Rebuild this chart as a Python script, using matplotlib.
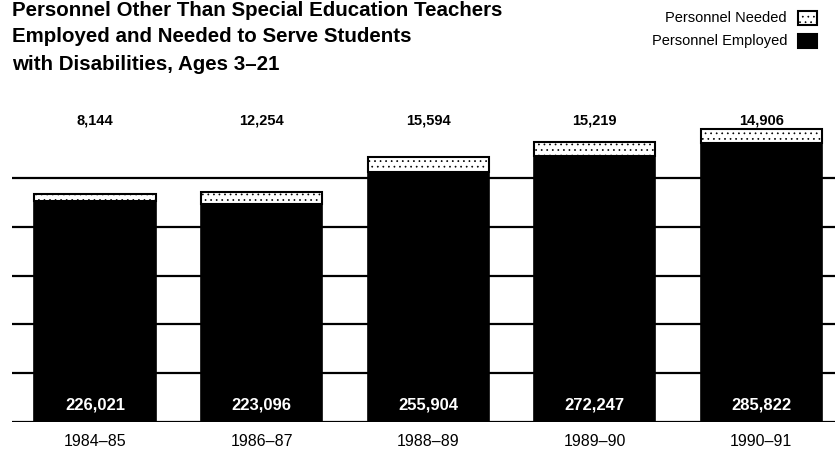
import matplotlib.pyplot as plt
from matplotlib.patches import Rectangle

# school years and personnel counts
years = ['1984\u201385', '1986\u201387', '1988\u201389', '1989\u201390', '1990\u201391']
employed = [226021, 223096, 255904, 272247, 285822]
needed = [8144, 12254, 15594, 15219, 14906]

W, H = 835, 457
FONT = ['Liberation Sans', 'DejaVu Sans']

fig = plt.figure(figsize=(W / 100, H / 100), dpi=100)
fig.patch.set_facecolor('white')

# axes placed in pixel terms: left edge at 12px, bottom line at 422px
ax = fig.add_axes([12 / W, (H - 422) / H, 1 - 12 / W, 322 / H])
ax.set_xlim(-0.4985, 4.444)
ax.set_ylim(0, 330000)

x = list(range(len(years)))
plt.rcParams['hatch.linewidth'] = 0.5
ax.bar(x, employed, width=0.727, color='black', edgecolor='black', linewidth=1.2, zorder=2)
ax.bar(x, needed, bottom=employed, width=0.727, color='white', edgecolor='black',
       linewidth=1.5, hatch='...', zorder=2)

# rules every 50,000 up to 250,000
ax.set_yticks(range(0, 250001, 50000))
ax.grid(axis='y', color='black', linewidth=1.6)
ax.set_axisbelow(True)
for s in ax.spines.values():
    s.set_visible(False)
ax.tick_params(left=False, labelleft=False, bottom=False)
ax.set_xticks(x)
ax.set_xticklabels(years, family=FONT, fontsize=11.5)
ax.tick_params(axis='x', pad=5)

for xi, e, n in zip(x, employed, needed):
    ax.text(xi, 309000, f'{n:,}', ha='center', va='center', fontsize=10.5,
            fontweight='bold', family=FONT)
    ax.text(xi, 17000, f'{e:,}', ha='center', va='center', fontsize=12,
            fontweight='bold', color='white', family=FONT, zorder=3)

# title, three lines
title_lines = ['Personnel Other Than Special Education Teachers',
               'Employed and Needed to Serve Students',
               'with Disabilities, Ages 3\u201321']
for line, base in zip(title_lines, [16, 42, 70]):
    fig.text(12 / W, 1 - base / H, line, ha='left', va='baseline',
             fontsize=14.8, fontweight='bold', family=FONT)

# legend drawn by hand at the top right
legend_items = [('Personnel Needed', 'white', 18), ('Personnel Employed', 'black', 41)]
for label, face, yc in legend_items:
    fig.text(787 / W, 1 - yc / H, label, ha='right', va='center', fontsize=10.5, family=FONT)
    fig.patches.append(Rectangle((798 / W, 1 - (yc + 7) / H), 19 / W, 14 / H,
                                 transform=fig.transFigure, facecolor=face,
                                 edgecolor='black', linewidth=1.5,
                                 hatch='...' if face == 'white' else None))

fig.savefig('out.png', dpi=100)
